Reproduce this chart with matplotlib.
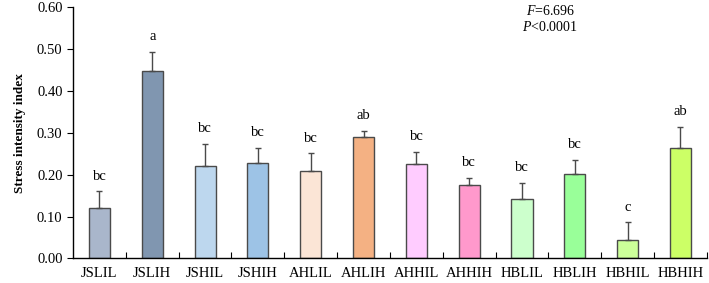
import numpy as np
import matplotlib
matplotlib.use("Agg")
import matplotlib.pyplot as plt

plt.rcParams['font.family'] = ['Liberation Serif', 'DejaVu Serif']
plt.rcParams['mathtext.fontset'] = 'custom'
plt.rcParams['mathtext.rm'] = 'Liberation Serif'
plt.rcParams['mathtext.it'] = 'Liberation Serif:italic'

groups = ["JSLIL", "JSLIH", "JSHIL", "JSHIH", "AHLIL", "AHLIH",
          "AHHIL", "AHHIH", "HBLIL", "HBLIH", "HBHIL", "HBHIH"]
means = [0.120, 0.447, 0.221, 0.228, 0.210, 0.289,
         0.226, 0.175, 0.141, 0.201, 0.045, 0.265]
errors = [0.040, 0.047, 0.053, 0.036, 0.041, 0.016,
          0.028, 0.018, 0.040, 0.034, 0.041, 0.050]
letters = ["bc", "a", "bc", "bc", "bc", "ab",
           "bc", "bc", "bc", "bc", "c", "ab"]
colors = ["#A9B6CB", "#8096B0", "#BDD7EE", "#9DC3E6", "#FBE5D6", "#F4B183",
          "#FFCCFF", "#FF99CC", "#CCFFCC", "#99FF99", "#CCFF99", "#CCFF66"]

fig = plt.figure(figsize=(7.09, 2.83), dpi=100)
ax = fig.add_axes([0.103, 0.087, 0.894, 0.887])

x = np.arange(len(groups))
ax.bar(x, means, width=0.4, color=colors, edgecolor="#4a4a4a", linewidth=1.0,
       yerr=[np.zeros(len(means)), errors], capsize=2.5,
       error_kw=dict(ecolor="#4a4a4a", elinewidth=1.0, capthick=1.0))

# significance letters above error bars
for xi, m, e, lab in zip(x, means, errors, letters):
    ax.annotate(lab, (xi, m + e), xytext=(0, 11), textcoords="offset points",
                ha="center", va="center", fontsize=10.5)

ax.set_xlim(-0.5, len(groups) - 0.5)
ax.set_ylim(0, 0.6)
ax.set_yticks(np.arange(0, 0.61, 0.1))
ax.set_yticklabels([f"{v:.2f}" for v in np.arange(0, 0.61, 0.1)])
ax.set_xticks(x)
ax.set_xticklabels(groups)
ax.set_xticks(np.arange(0.5, len(groups), 1.0), minor=True)
ax.tick_params(axis="x", which="major", length=0, labelsize=10.5, pad=6)
ax.tick_params(axis="x", which="minor", direction="in", length=4, width=0.8)
ax.tick_params(axis="y", direction="out", length=4, width=0.8, labelsize=10.5)

for s in ["top", "right"]:
    ax.spines[s].set_visible(False)
for s in ["left", "bottom"]:
    ax.spines[s].set_linewidth(1.0)
    ax.spines[s].set_color("black")

ax.set_ylabel("Stress intensity index", fontsize=9.5, fontweight="bold", labelpad=8)

ax.text(0.753, 0.985, "$\\it{F}$=6.696", transform=ax.transAxes, ha="center",
        va="center", fontsize=10)
ax.text(0.753, 0.92, "$\\it{P}$<0.0001", transform=ax.transAxes, ha="center",
        va="center", fontsize=10)

fig.savefig("out.png", dpi=100)
